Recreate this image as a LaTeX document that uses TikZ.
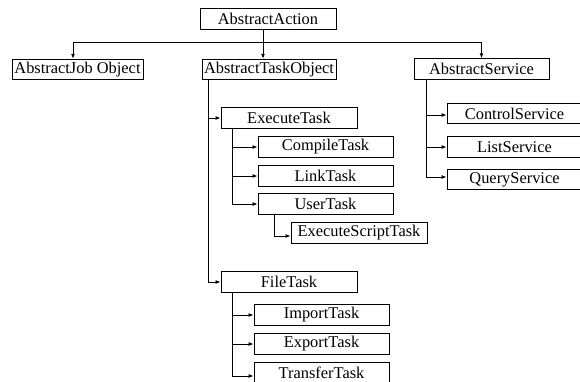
\documentclass[tikz,border=0pt]{standalone}
\usepackage{fontspec}
\setmainfont{Liberation Serif}
\usetikzlibrary{arrows.meta}
\begin{document}
\begin{tikzpicture}[x=1pt,y=-1pt,
  box/.style={draw,line width=0.9pt,inner sep=0pt,minimum height=20.5pt,minimum width=135pt,font=\fontsize{16.4}{18}\selectfont},
  arr/.style={-{Latex[length=5pt,width=4pt]},line width=0.9pt},
  ln/.style={line width=0.9pt}]
\useasboundingbox (0,0) rectangle (580,381);
\clip (0,0) rectangle (580,381);
% nodes
\node[box,minimum width=136pt] (act) at (268,19) {AbstractAction};
\node[box,minimum width=131pt] (job) at (77.5,69.5) {AbstractJob Object};
\node[box,minimum width=134pt] (tob) at (269,69.5) {AbstractTaskObject};
\node[box] (svc) at (481.5,69) {AbstractService};
\node[box,minimum width=136pt] (exe) at (289,118) {ExecuteTask};
\node[box] (cmp) at (325.5,147) {CompileTask};
\node[box] (lnk) at (325.5,176) {LinkTask};
\node[box] (usr) at (325.5,204) {UserTask};
\node[box,minimum width=136pt] (esc) at (359,233) {ExecuteScriptTask};
\node[box,minimum width=136pt] (fil) at (289,282) {FileTask};
\node[box] (imp) at (321.5,315) {ImportTask};
\node[box] (exp) at (321.5,344) {ExportTask};
\node[box] (trn) at (321.5,373) {TransferTask};
\node[box] (ctl) at (514.5,113.5) {ControlService};
\node[box] (lst) at (514.5,147) {ListService};
\node[box] (qry) at (514.5,179.5) {QueryService};
% top level connectors
\coordinate (j) at (263,42);
\draw[ln] ([xshift=-5pt]act.south) -- (j);
\draw[arr] (j) -| ([xshift=-4.5pt]job.north);
\draw[arr] (j) -| (svc.north);
\draw[arr] (j) -- ([xshift=-6pt]tob.north);
% AbstractTaskObject subtree
\draw[arr] ([xshift=7pt]tob.south west) |- (exe);
\draw[arr] ([xshift=7pt]tob.south west) |- (fil);
\draw[arr] ([xshift=12pt]exe.south west) |- (cmp);
\draw[arr] ([xshift=12pt]exe.south west) |- (lnk);
\draw[arr] ([xshift=12pt]exe.south west) |- (usr);
\draw[arr] ([xshift=17pt]usr.south west) |- ([yshift=-3pt]esc.west);
\draw[arr] ([xshift=12pt]fil.south west) |- (imp);
\draw[arr] ([xshift=12pt]fil.south west) |- (exp);
\draw[arr] ([xshift=12pt]fil.south west) |- ([yshift=-3pt]trn.west);
% AbstractService subtree
\draw[arr] ([xshift=13pt]svc.south west) |- ([yshift=-1.5pt]ctl.west);
\draw[arr] ([xshift=13pt]svc.south west) |- (lst);
\draw[arr] ([xshift=13pt]svc.south west) |- ([yshift=2.5pt]qry.west);
\end{tikzpicture}
\end{document}
